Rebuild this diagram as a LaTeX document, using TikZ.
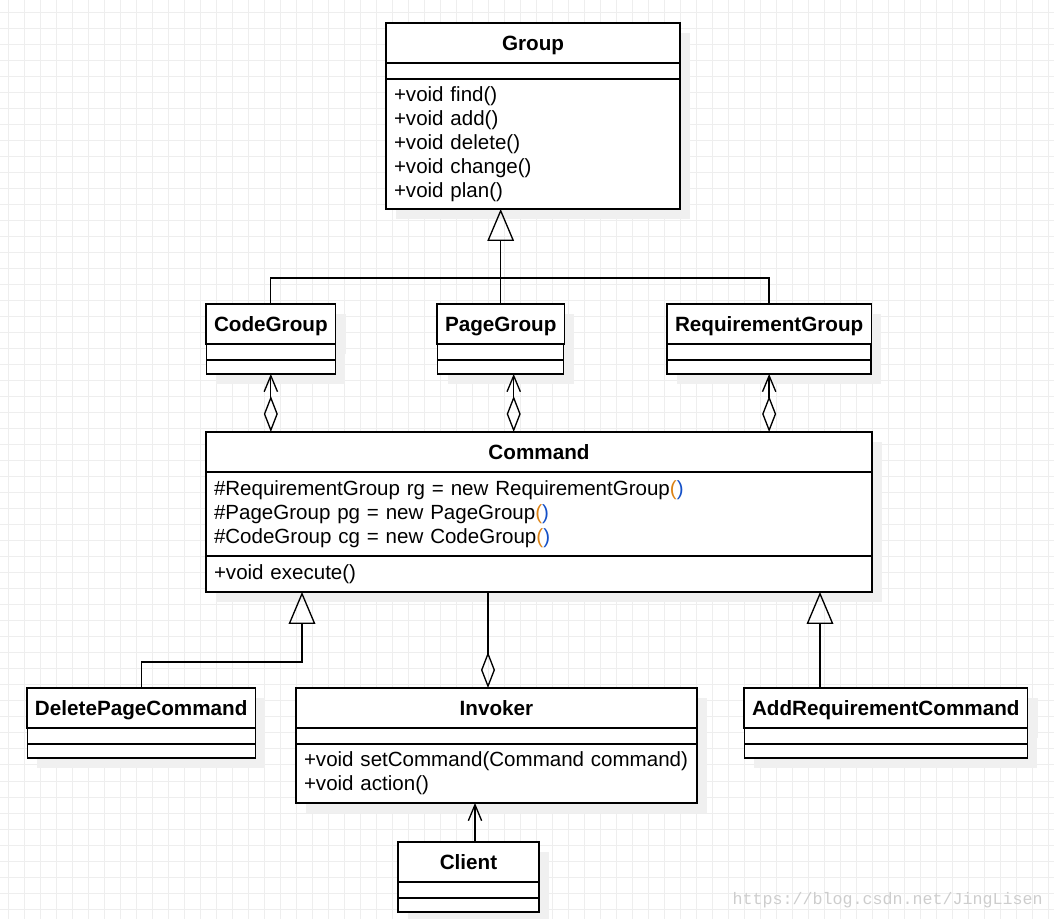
\documentclass[tikz,border=0pt]{standalone}
\usepackage{fontspec}
\setmainfont{Liberation Sans}
\newfontfamily\markfont{Liberation Mono}
\usetikzlibrary{positioning,calc,arrows.meta,shadows}

\definecolor{gridgray}{RGB}{238,238,238}
\definecolor{shadowgray}{RGB}{240,240,240}
\definecolor{markgray}{RGB}{205,205,205}
\definecolor{parenopen}{RGB}{220,130,20}
\definecolor{parenclose}{RGB}{20,80,200}

\tikzset{
  box/.style={draw, line width=1pt, fill=white, outer sep=0pt,
    inner xsep=6pt, inner ysep=0pt, anchor=north west,
    font=\fontsize{15.4}{18}\selectfont,
    drop shadow={shadow xshift=7.5pt, shadow yshift=-7.5pt, fill=shadowgray, opacity=1}},
  cname/.style={box, minimum width=#1*0.75pt, minimum height=30pt, text depth=0pt,
    font=\fontsize{15.5}{18}\selectfont\bfseries},
  cpart/.style 2 args={box, minimum width=#1*0.75pt, minimum height=#2*0.75pt},
  cbody/.style 2 args={box, text width=#1*0.75pt-12pt, minimum height=#2*0.75pt, align=left},
  gridline/.style={gridgray, line width=0.75pt},
  generalize/.style={line width=1pt, -{Triangle[open, length=24pt, width=20pt]}},
  aggregate/.style={line width=1pt, {Diamond[open, length=27pt, width=10.5pt]}-{Straight Barb[length=12pt, width=10pt]}},
  holds/.style={line width=1pt, {Diamond[open, length=27pt, width=10.5pt]}-},
  uses/.style={line width=1pt, -{Straight Barb[length=12pt, width=10pt]}}
}
\newcommand{\callparens}{\textcolor{parenopen}{(}\textcolor{parenclose}{)}}

\begin{document}
\begin{tikzpicture}[x=0.75pt, y=-0.75pt]
  % 画布与背景网格 (1054 x 919 px)
  \useasboundingbox (0,0) rectangle (1054,919);
  \foreach \x in {8,24,...,1048} \draw[gridline] (\x,0) -- (\x,919);
  \foreach \y in {13,29,...,909} \draw[gridline] (0,\y) -- (1054,\y);

  % Group
  \node[cname=294] (group) at (386,23) {Group};
  \node[cpart={294}{16}, below=0pt of group] (group-a) {};
  \node[cbody={294}{130}, below=0pt of group-a] (group-m)
    {+void find()\\+void add()\\+void delete()\\+void change()\\+void plan()};

  % 三个子类
  \node[cname=129] (codegroup) at (206,304) {CodeGroup};
  \node[cpart={129}{16}, below=0pt of codegroup] (codegroup-a) {};
  \node[cpart={129}{14}, below=0pt of codegroup-a] (codegroup-m) {};

  \node[cname=126] (pagegroup) at (437,304) {PageGroup};
  \node[cpart={126}{16}, below=0pt of pagegroup] (pagegroup-a) {};
  \node[cpart={126}{14}, below=0pt of pagegroup-a] (pagegroup-m) {};

  \node[cname=204] (reqgroup) at (667,304) {RequirementGroup};
  \node[cpart={204}{16}, below=0pt of reqgroup] (reqgroup-a) {};
  \node[cpart={204}{14}, below=0pt of reqgroup-a] (reqgroup-m) {};

  % Command
  \node[cname=666] (command) at (206,432) {Command};
  \node[cbody={666}{84}, below=0pt of command] (command-a)
    {\#RequirementGroup rg = new RequirementGroup\callparens\\
     \#PageGroup pg = new PageGroup\callparens\\
     \#CodeGroup cg = new CodeGroup\callparens};
  \node[cbody={666}{36}, below=0pt of command-a] (command-m) {+void execute()};

  % 具体命令与调用者
  \node[cname=228] (delete) at (27,688) {DeletePageCommand};
  \node[cpart={228}{16}, below=0pt of delete] (delete-a) {};
  \node[cpart={228}{14}, below=0pt of delete-a] (delete-m) {};

  \node[cname=401] (invoker) at (296,688) {Invoker};
  \node[cpart={401}{16}, below=0pt of invoker] (invoker-a) {};
  \node[cbody={401}{59}, below=0pt of invoker-a] (invoker-m)
    {+void setCommand(Command command)\\+void action()};

  \node[cname=283] (addreq) at (744,688) {AddRequirementCommand};
  \node[cpart={283}{16}, below=0pt of addreq] (addreq-a) {};
  \node[cpart={283}{14}, below=0pt of addreq-a] (addreq-m) {};

  \node[cname=141] (client) at (398,842) {Client};
  \node[cpart={141}{16}, below=0pt of client] (client-a) {};
  \node[cpart={141}{14}, below=0pt of client-a] (client-m) {};

  % 连线的落点
  \coordinate (pg-agg) at ($(pagegroup-m.south)+(13,0)$);
  \coordinate (del-tip) at ($(command-m.south west)+(96,0)$);
  \coordinate (add-tip) at ($(command-m.south west)+(614,0)$);
  \coordinate (inv-end) at ($(command-m.south west)+(282,0)$);
  \coordinate (cl-end) at ($(client.north west)+(77,0)$);

  % 继承
  \draw[line width=1pt] (codegroup.north) -- ++(0,-26) -| (reqgroup.north);
  \draw[generalize] (pagegroup.north) -- (pagegroup.north |- group-m.south);
  \draw[generalize] (delete.north) -- ++(0,-26) -| (del-tip);
  \draw[generalize] (addreq.north -| add-tip) -- (add-tip);

  % 聚合
  \draw[aggregate] (command.north -| codegroup-m.south) -- (codegroup-m.south);
  \draw[aggregate] (command.north -| pg-agg) -- (pg-agg);
  \draw[aggregate] (command.north -| reqgroup-m.south) -- (reqgroup-m.south);
  \draw[holds] (invoker.north -| inv-end) -- (inv-end);

  % 关联
  \draw[uses] (cl-end) -- (invoker-m.south -| cl-end);

  % 水印
  \node[font=\markfont\fontsize{12.5}{14}\selectfont, text=markgray,
    anchor=east, inner sep=0pt] (mark) at (1043,900) {https://blog.csdn.net/JingLisen};
\end{tikzpicture}
\end{document}
